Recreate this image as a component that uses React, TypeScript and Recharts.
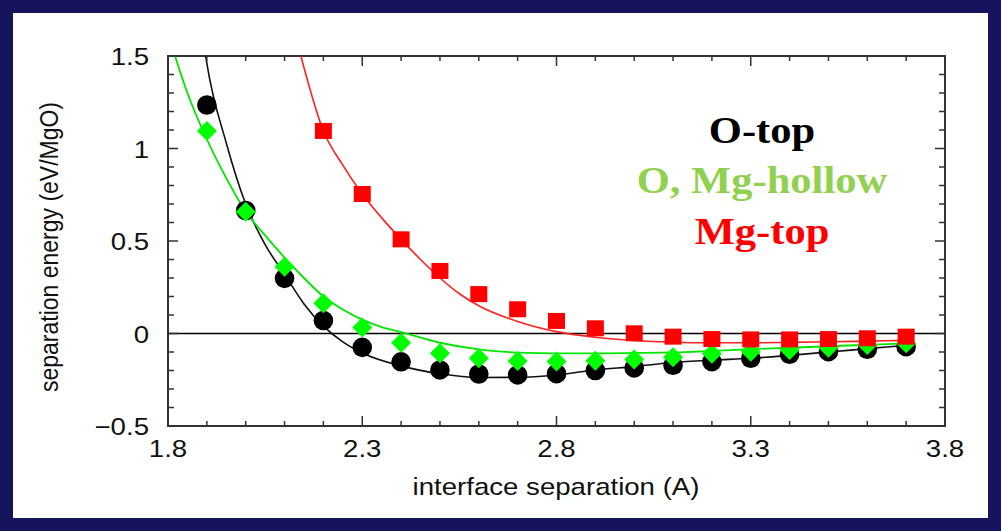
import { ComposedChart, Line, Scatter, XAxis, YAxis, ReferenceLine, ReferenceArea } from "recharts";

// measured points (interface separation in A, separation energy in eV/MgO)
const X_PTS = [1.9, 2.0, 2.1, 2.2, 2.3, 2.4, 2.5, 2.6, 2.7, 2.8, 2.9, 3.0, 3.1, 3.2, 3.3, 3.4, 3.5, 3.6, 3.7];
const O_TOP = [1.235, 0.665, 0.298, 0.07, -0.075, -0.153, -0.197, -0.219, -0.224, -0.217, -0.2, -0.186, -0.172, -0.152, -0.134, -0.112, -0.098, -0.085, -0.071];
const MG_HOLLOW = [1.095, 0.658, 0.361, 0.163, 0.033, -0.05, -0.107, -0.134, -0.149, -0.152, -0.147, -0.141, -0.129, -0.11, -0.098, -0.089, -0.077, -0.062, -0.053];
const X_MG_TOP = [2.2, 2.3, 2.4, 2.5, 2.6, 2.7, 2.8, 2.9, 3.0, 3.1, 3.2, 3.3, 3.4, 3.5, 3.6, 3.7];
const MG_TOP = [1.095, 0.754, 0.509, 0.338, 0.213, 0.131, 0.068, 0.028, 0.001, -0.017, -0.03, -0.032, -0.032, -0.03, -0.026, -0.017];

// fitted curves
const O_TOP_FIT_X = [1.897, 1.9, 1.95, 2.0, 2.05, 2.1, 2.15, 2.2, 2.25, 2.3, 2.4, 2.5, 2.6, 2.7, 2.8, 2.9, 3.0, 3.1, 3.2, 3.3, 3.4, 3.5, 3.6, 3.7];
const O_TOP_FIT_Y = [1.5, 1.46, 1.03, 0.7, 0.48, 0.32, 0.16, 0.04, -0.045, -0.105, -0.175, -0.218, -0.238, -0.237, -0.224, -0.197, -0.179, -0.157, -0.144, -0.134, -0.118, -0.1, -0.082, -0.064];
const HOLLOW_FIT_X = [1.818, 1.85, 1.9, 1.95, 2.0, 2.05, 2.1, 2.15, 2.2, 2.25, 2.3, 2.35, 2.4, 2.5, 2.6, 2.7, 2.8, 2.9, 3.0, 3.1, 3.2, 3.3, 3.4, 3.5, 3.6, 3.7];
const HOLLOW_FIT_Y = [1.5, 1.3, 1.05, 0.84, 0.66, 0.53, 0.41, 0.3, 0.2, 0.13, 0.075, 0.035, 0.008, -0.05, -0.086, -0.103, -0.107, -0.107, -0.105, -0.102, -0.094, -0.085, -0.077, -0.069, -0.061, -0.053];
const MG_TOP_FIT_X = [2.142, 2.2, 2.25, 2.3, 2.35, 2.4, 2.45, 2.5, 2.55, 2.6, 2.7, 2.8, 2.9, 3.0, 3.1, 3.2, 3.3, 3.4, 3.5, 3.6, 3.7];
const MG_TOP_FIT_Y = [1.5, 1.095, 0.91, 0.754, 0.625, 0.509, 0.4, 0.3, 0.215, 0.15, 0.065, 0.01, -0.02, -0.038, -0.047, -0.05, -0.05, -0.048, -0.045, -0.041, -0.037];

const X_LABELS = [1.8, 2.3, 2.8, 3.3, 3.8];
const X_TICKS = [1.8, 1.9, 2.0, 2.1, 2.2, 2.3, 2.4, 2.5, 2.6, 2.7, 2.8, 2.9, 3.0, 3.1, 3.2, 3.3, 3.4, 3.5, 3.6, 3.7, 3.8];
const Y_LABELS = [-0.5, 0, 0.5, 1, 1.5];
const Y_TICKS = [-0.5, -0.4, -0.3, -0.2, -0.1, 0, 0.1, 0.2, 0.3, 0.4, 0.5, 0.6, 0.7, 0.8, 0.9, 1.0, 1.1, 1.2, 1.3, 1.4, 1.5];

const pts = (xs: number[], ys: number[]) => xs.map((x, i) => ({ x, y: ys[i] }));

const W = 1001;
const H = 531;
const PLOT_W = 777;
const PLOT_H = 370;
const AXIS = "#333";
const SANS = "'Liberation Sans', Arial, sans-serif";
const SERIF = "'Liberation Serif', 'Times New Roman', serif";
const STRETCH = 1.15;

const isMajor = (list: number[], v: number) => list.some((l) => Math.abs(l - v) < 1e-6);
const fmt = (v: number) => (v < 0 ? "\u2212" + Math.abs(v) : String(v));

function XTick({ x, y, payload }: any) {
  const v = payload.value;
  const major = isMajor(X_LABELS, v);
  const len = major ? 10 : 5;
  return (
    <g>
      <line x1={x} x2={x} y1={y} y2={y - len} stroke={AXIS} strokeWidth={1.5} />
      <line x1={x} x2={x} y1={y - PLOT_H} y2={y - PLOT_H + len} stroke={AXIS} strokeWidth={1.5} />
      {major && (
        <text transform={`translate(${x},${y + 31}) scale(${STRETCH},1)`} textAnchor="middle" fontSize={24} fontFamily={SANS} fill="#111">
          {v.toFixed(1)}
        </text>
      )}
    </g>
  );
}

function YTick({ x, y, payload }: any) {
  const v = payload.value;
  const major = isMajor(Y_LABELS, v);
  const len = major ? 10 : 6;
  return (
    <g>
      <line x1={x} x2={x + len} y1={y} y2={y} stroke={AXIS} strokeWidth={1.5} />
      <line x1={x + PLOT_W} x2={x + PLOT_W - len} y1={y} y2={y} stroke={AXIS} strokeWidth={1.5} />
      {major && (
        <text transform={`translate(${x - 19},${y + 9}) scale(${STRETCH},1)`} textAnchor="end" fontSize={24} fontFamily={SANS} fill="#111">
          {fmt(v)}
        </text>
      )}
    </g>
  );
}

const Circle = ({ cx, cy }: any) => <circle cx={cx} cy={cy} r={9.8} fill="#000" />;
const Diamond = ({ cx, cy }: any) => (
  <path d={`M${cx},${cy - 10} L${cx + 10},${cy} L${cx},${cy + 10} L${cx - 10},${cy} Z`} fill="#00ff00" />
);
const Square = ({ cx, cy }: any) => <rect x={cx - 8.5} y={cy - 8} width={17} height={16} fill="#ff0000" />;

export default function App() {
  return (
    <div style={{ position: "fixed", left: 0, top: 0, width: W, height: H, background: "#15145c" }}>
      <div style={{ position: "absolute", left: 13, top: 13, width: 975, height: 505, background: "#fff" }} />
      <div style={{ position: "absolute", left: 0, top: 0 }}>
        <ComposedChart width={W} height={H} margin={{ top: 56, right: 56, bottom: 0, left: 108 }}>
          <XAxis
            dataKey="x"
            type="number"
            domain={[1.8, 3.8]}
            ticks={X_TICKS}
            interval={0}
            allowDataOverflow
            height={105}
            tickSize={0}
            tickMargin={0}
            tickLine={false}
            axisLine={false}
            tick={(p: any) => <XTick {...p} />}
          />
          <YAxis
            dataKey="y"
            type="number"
            domain={[-0.5, 1.5]}
            ticks={Y_TICKS}
            interval={0}
            allowDataOverflow
            width={60}
            tickSize={0}
            tickMargin={0}
            tickLine={false}
            axisLine={false}
            tick={(p: any) => <YTick {...p} />}
          />
          <ReferenceArea x1={1.8} x2={3.8} y1={-0.5} y2={1.5} fill="none" fillOpacity={0} stroke={AXIS} strokeWidth={2} />
          <ReferenceLine y={0} stroke="#000" strokeWidth={1.5} />
          <Scatter data={pts(X_PTS, O_TOP)} dataKey="y" shape={Circle} isAnimationActive={false} />
          <Scatter data={pts(X_PTS, MG_HOLLOW)} dataKey="y" shape={Diamond} isAnimationActive={false} />
          <Scatter data={pts(X_MG_TOP, MG_TOP)} dataKey="y" shape={Square} isAnimationActive={false} />
          <Line data={pts(O_TOP_FIT_X, O_TOP_FIT_Y)} dataKey="y" type="monotone" stroke="#111" strokeWidth={1.6} dot={false} isAnimationActive={false} />
          <Line data={pts(HOLLOW_FIT_X, HOLLOW_FIT_Y)} dataKey="y" type="monotone" stroke="#00e600" strokeWidth={1.8} dot={false} isAnimationActive={false} />
          <Line data={pts(MG_TOP_FIT_X, MG_TOP_FIT_Y)} dataKey="y" type="monotone" stroke="#ff2020" strokeWidth={1.6} dot={false} isAnimationActive={false} />
        </ComposedChart>
      </div>
      <svg width={W} height={H} style={{ position: "absolute", left: 0, top: 0, pointerEvents: "none" }}>
        <text transform={`translate(556,495) scale(${STRETCH},1)`} textAnchor="middle" fontSize={24} fontFamily={SANS} fill="#111">
          interface separation (A)
        </text>
        <text transform={`translate(58,247) scale(${STRETCH},1) rotate(-90)`} textAnchor="middle" fontSize={23} fontFamily={SANS} fill="#111">
          separation energy (eV/MgO)
        </text>
        <g fontFamily={SERIF} fontWeight="bold" fontSize={37} textAnchor="middle">
          <text transform={`translate(762,143) scale(${STRETCH},1)`} fill="#000">O-top</text>
          <text transform={`translate(762,193) scale(${STRETCH},1)`} fill="#92d050">O, Mg-hollow</text>
          <text transform={`translate(762,244) scale(${STRETCH},1)`} fill="#ff0000">Mg-top</text>
        </g>
      </svg>
    </div>
  );
}
